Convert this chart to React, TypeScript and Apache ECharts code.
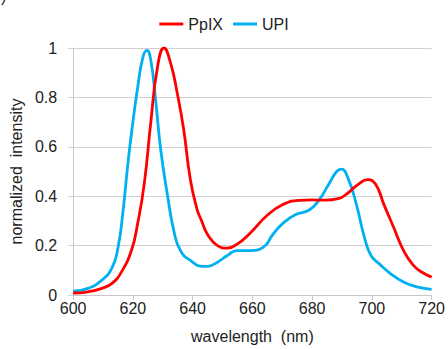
import React, { useEffect, useRef } from "react";
import * as echarts from "echarts";

const seriesNames = ["PpIX", "UPI"];
const seriesColors = ["#ff0000", "#00b0f0"];

const ppixWavelength = [600, 605, 609.6, 613, 616, 619.5, 621.6, 623.8, 626, 628.2, 630.4, 632.6, 634.8, 637, 639.2, 641.4, 643, 645, 648.3, 651.6, 654.9, 659.2, 664.7, 670.2, 675.6, 680, 684.4, 688.7, 692, 695.3, 698.6, 701.3, 704, 707.3, 710.6, 713.9, 717.2, 720];
const ppixIntensity = [0.008, 0.013, 0.027, 0.047, 0.09, 0.18, 0.29, 0.45, 0.7, 0.92, 1.0, 0.94, 0.82, 0.67, 0.47, 0.35, 0.3, 0.245, 0.2, 0.19, 0.206, 0.25, 0.32, 0.366, 0.383, 0.385, 0.384, 0.39, 0.413, 0.447, 0.467, 0.447, 0.367, 0.273, 0.18, 0.12, 0.089, 0.073];

const upiWavelength = [600, 605, 609.6, 613, 615, 616.7, 618.4, 620, 621.6, 623.3, 624.7, 626, 627.6, 629.3, 631.5, 633.7, 635.9, 639.2, 643.5, 645, 648.3, 651.6, 654.9, 659.2, 663.6, 666.9, 670.2, 674.5, 678.9, 682.2, 685.5, 688.2, 689.8, 692, 694.8, 697.5, 699.7, 702.4, 706.2, 710.6, 715, 720];
const upiIntensity = [0.016, 0.027, 0.06, 0.11, 0.19, 0.34, 0.54, 0.7, 0.84, 0.96, 0.99, 0.95, 0.79, 0.59, 0.41, 0.26, 0.18, 0.14, 0.116, 0.116, 0.133, 0.16, 0.18, 0.18, 0.193, 0.246, 0.29, 0.326, 0.343, 0.383, 0.447, 0.5, 0.51, 0.473, 0.367, 0.233, 0.16, 0.127, 0.087, 0.053, 0.033, 0.023];

const xTicks = { min: 600, max: 720, interval: 20 };
const yTicks = { min: 0, max: 1, interval: 0.2 };

const FONT = "'Liberation Sans', Arial, sans-serif";
const TEXT = "#222";

export default function App() {
  const ref = useRef<HTMLDivElement>(null);
  useEffect(() => {
    if (!ref.current) return;
    const chart = echarts.init(ref.current, undefined, { renderer: "svg" });
    const pair = (xs: number[], ys: number[]) => xs.map((x, i) => [x, ys[i]]);
    chart.setOption({
      animation: false,
      textStyle: { fontFamily: FONT },
      legend: {
        top: 11,
        left: "center",
        icon: "rect",
        itemWidth: 24,
        itemHeight: 3,
        itemGap: 10,
        textStyle: { fontSize: 16, color: TEXT, fontFamily: FONT },
        data: seriesNames,
      },
      graphic: [
        { type: "text", left: 1, top: -12, style: { text: ")", fontSize: 16, fill: TEXT, fontFamily: FONT } },
      ],
      grid: { left: 69, right: 12, top: 48, bottom: 51, containLabel: false },
      xAxis: {
        type: "value",
        min: xTicks.min,
        max: xTicks.max,
        interval: xTicks.interval,
        name: "wavelength  (nm)",
        nameLocation: "middle",
        nameGap: 33,
        nameTextStyle: { fontSize: 16, color: TEXT, fontFamily: FONT },
        axisLine: { show: true, lineStyle: { color: "#c8c8c8", width: 1 } },
        axisTick: { show: true, length: 5, lineStyle: { color: "#c8c8c8" } },
        axisLabel: { fontSize: 16, color: TEXT, margin: 5, fontFamily: FONT },
        splitLine: { show: false },
      },
      yAxis: {
        type: "value",
        min: yTicks.min,
        max: yTicks.max,
        interval: yTicks.interval,
        name: "normalized  intensity",
        nameLocation: "middle",
        nameGap: 44,
        nameTextStyle: { fontSize: 16, color: TEXT, fontFamily: FONT },
        axisLine: { show: true, lineStyle: { color: "#c8c8c8", width: 1 } },
        axisTick: { show: true, length: 5, lineStyle: { color: "#d0d0d0" } },
        axisLabel: { fontSize: 16, color: TEXT, margin: 16, fontFamily: FONT },
        splitLine: { show: true, lineStyle: { color: "#d0d0d0", width: 1 } },
      },
      series: [
        {
          name: seriesNames[0],
          type: "line",
          data: pair(ppixWavelength, ppixIntensity),
          smooth: 0.5,
          showSymbol: false,
          symbol: "none",
          lineStyle: { color: seriesColors[0], width: 2.8 },
          itemStyle: { color: seriesColors[0] },
          z: 3,
        },
        {
          name: seriesNames[1],
          type: "line",
          data: pair(upiWavelength, upiIntensity),
          smooth: 0.5,
          showSymbol: false,
          symbol: "none",
          lineStyle: { color: seriesColors[1], width: 2.8 },
          itemStyle: { color: seriesColors[1] },
          z: 2,
        },
      ],
    });
    return () => chart.dispose();
  }, []);
  return <div ref={ref} style={{ position: "absolute", left: 0, top: 0, width: 448, height: 349 }} />;
}
